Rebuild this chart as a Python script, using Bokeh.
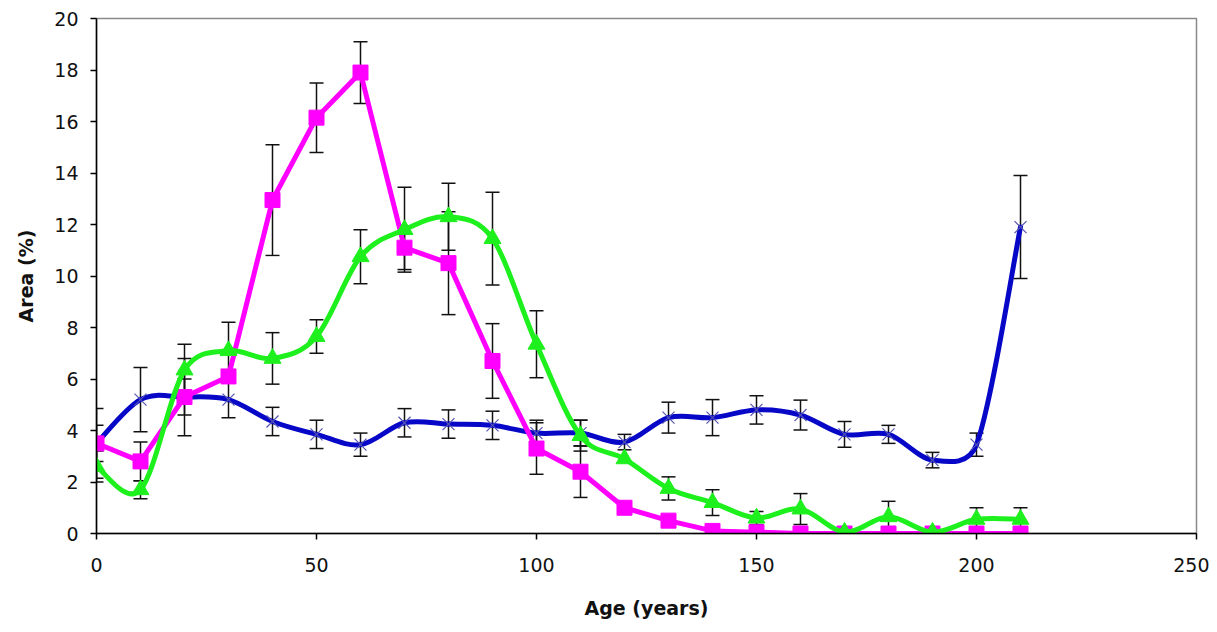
from bokeh.plotting import figure
from bokeh.models import ColumnDataSource, Range1d, SingleIntervalTicker, Whisker, TeeHead
from bokeh.embed import file_html
from bokeh.resources import INLINE
import math

# ---- data ----
age = [0, 10, 20, 30, 40, 50, 60, 70, 80, 90, 100, 110, 120, 130, 140, 150, 160, 170, 180, 190, 200, 210]

blue = [3.5, 5.2, 5.3, 5.2, 4.35, 3.85, 3.45, 4.3, 4.25, 4.2, 3.9, 3.9, 3.55, 4.5, 4.5, 4.8, 4.6, 3.85, 3.85, 2.85, 3.45, 11.9]
blue_err = [1.35, 1.25, 1.5, 0.7, 0.55, 0.55, 0.45, 0.55, 0.55, 0.55, 0.5, 0.5, 0.3, 0.6, 0.7, 0.55, 0.58, 0.5, 0.35, 0.3, 0.45, 2.0]

magenta = [3.5, 2.8, 5.3, 6.1, 12.95, 16.15, 17.9, 11.1, 10.5, 6.7, 3.3, 2.4, 1.0, 0.5, 0.1, 0.05, 0, 0, 0, 0, 0, 0]
magenta_err = [0.7, 0.75, 0.7, 0, 2.15, 1.35, 1.2, 0.85, 2.0, 1.45, 1.0, 1.0, 0, 0, 0, 0, 0, 0, 0, 0, 0, 0]

green = [2.6, 1.7, 6.35, 7.1, 6.8, 7.65, 10.75, 11.8, 12.3, 11.45, 7.35, 3.8, 2.9, 1.75, 1.2, 0.6, 0.95, 0.05, 0.65, 0.05, 0.55, 0.55]
green_err = [0.6, 0.35, 1.0, 1.1, 1.0, 0.65, 1.05, 1.65, 1.3, 1.8, 1.3, 0.6, 0, 0.45, 0.5, 0.25, 0.6, 0, 0.6, 0, 0.45, 0.45]

x_label = "Age (years)"
y_label = "Area (%)"

BLUE = "#0707C8"
MAGENTA = "#FF00FF"
GREEN = "#1EF01E"
FONT = "DejaVu Sans"

X_MIN, X_MAX, Y_MIN, Y_MAX = 0, 250, 0, 20
FRAME_W, FRAME_H = 1100, 515

p = figure(width=1209, height=624, output_backend="svg", toolbar_location=None,
           x_range=Range1d(X_MIN, X_MAX), y_range=Range1d(Y_MIN, Y_MAX),
           frame_width=FRAME_W, frame_height=FRAME_H,
           min_border_left=96, min_border_top=18, min_border_right=13, min_border_bottom=91)

p.background_fill_color = "white"
p.border_fill_color = "white"
p.outline_line_color = "#8a8a8a"
p.outline_line_width = 1.5
p.xgrid.visible = False
p.ygrid.visible = False

p.xaxis.ticker = SingleIntervalTicker(interval=50)
p.yaxis.ticker = SingleIntervalTicker(interval=2)
for ax in (p.xaxis[0], p.yaxis[0]):
    ax.axis_line_color = "black"
    ax.axis_line_width = 1.5
    ax.major_tick_line_color = "black"
    ax.major_tick_line_width = 1.5
    ax.major_tick_out = 6
    ax.major_tick_in = 0
    ax.minor_tick_line_color = None
    ax.major_label_text_font = FONT
    ax.major_label_text_font_size = "19px"
    ax.major_label_text_color = "#111111"
    ax.axis_label_text_font = FONT
    ax.axis_label_text_font_size = "19px"
    ax.axis_label_text_font_style = "bold"
    ax.axis_label_text_color = "#111111"

p.xaxis.axis_label = x_label
p.yaxis.axis_label = y_label
p.xaxis.major_label_standoff = 18
p.xaxis.axis_label_standoff = 22
p.yaxis.major_label_standoff = 12
p.yaxis.axis_label_standoff = 14

SX = FRAME_W / (X_MAX - X_MIN)
SY = FRAME_H / (Y_MAX - Y_MIN)


def smooth_source(xs, ys):
    """Excel-style smoothed line: Bezier segments whose control handles are
    (P[i+1]-P[i-1])/6 in screen space, clipped to half the segment length."""
    n = len(xs)
    P = [(x * SX, y * SY) for x, y in zip(xs, ys)]

    def handle(a, b, seg_len):
        hx, hy = (b[0] - a[0]) / 6.0, (b[1] - a[1]) / 6.0
        L = math.hypot(hx, hy)
        lim = seg_len / 2.0
        if L > lim and L > 0:
            hx, hy = hx * lim / L, hy * lim / L
        return hx, hy

    d = dict(x0=[], y0=[], x1=[], y1=[], cx0=[], cy0=[], cx1=[], cy1=[])
    for i in range(n - 1):
        pm = max(i - 1, 0)
        pp = min(i + 2, n - 1)
        seg = math.hypot(P[i + 1][0] - P[i][0], P[i + 1][1] - P[i][1])
        h0 = handle(P[pm], P[i + 1], seg)
        h1 = handle(P[i], P[pp], seg)
        d["x0"].append(xs[i]); d["y0"].append(ys[i])
        d["x1"].append(xs[i + 1]); d["y1"].append(ys[i + 1])
        d["cx0"].append((P[i][0] + h0[0]) / SX)
        d["cy0"].append((P[i][1] + h0[1]) / SY)
        d["cx1"].append((P[i + 1][0] - h1[0]) / SX)
        d["cy1"].append((P[i + 1][1] - h1[1]) / SY)
    return ColumnDataSource(d)


def err_source(xs, ys, es):
    keep = [i for i in range(len(xs)) if es[i] > 0]
    return ColumnDataSource(dict(
        x=[xs[i] for i in keep],
        upper=[ys[i] + es[i] for i in keep],
        lower=[ys[i] - es[i] for i in keep]))


# blue series (smoothed, x markers)
p.bezier(x0="x0", y0="y0", x1="x1", y1="y1", cx0="cx0", cy0="cy0", cx1="cx1", cy1="cy1",
         source=smooth_source(age, blue), line_color=BLUE, line_width=5, line_cap="round")
p.scatter(age, blue, marker="x", size=17, line_color="#5555B0", line_width=1.2)

# magenta series (straight, squares)
p.line(age, magenta, line_color=MAGENTA, line_width=5, line_join="round")
p.scatter(age, magenta, marker="square", size=15, fill_color=MAGENTA, line_color=MAGENTA)

# green series (smoothed, triangles)
p.bezier(x0="x0", y0="y0", x1="x1", y1="y1", cx0="cx0", cy0="cy0", cx1="cx1", cy1="cy1",
         source=smooth_source(age, green), line_color=GREEN, line_width=5, line_cap="round")
p.scatter(age, green, marker="triangle", size=17, fill_color=GREEN, line_color=GREEN)

# error bars
for ys, es in ((blue, blue_err), (magenta, magenta_err), (green, green_err)):
    w = Whisker(source=err_source(age, ys, es), base="x", upper="upper", lower="lower",
                line_color="#111111", line_width=1.5,
                upper_head=TeeHead(size=14, line_color="#111111", line_width=1.5),
                lower_head=TeeHead(size=14, line_color="#111111", line_width=1.5))
    p.add_layout(w)

open("out.html", "w").write(file_html(p, INLINE))
